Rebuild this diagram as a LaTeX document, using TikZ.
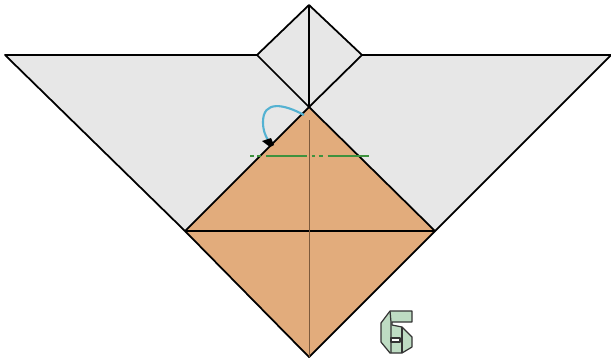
\documentclass[tikz,border=0pt]{standalone}
\usepackage{xcolor}
\usetikzlibrary{arrows.meta}
\definecolor{papergray}{RGB}{231, 231, 231}
\definecolor{paperorange}{RGB}{226, 172, 124}
\definecolor{foldgreen}{RGB}{62, 146, 62}
\definecolor{turnblue}{RGB}{84, 178, 210}
\definecolor{digitgreen}{RGB}{190, 220, 195}
\definecolor{creasebrown}{RGB}{125, 90, 60}
\begin{document}
\begin{tikzpicture}[
        x=0.02cm, y=-0.02cm,
        edge/.style={draw=black, line width=1pt, line join=round},
        crease/.style={draw=creasebrown, line width=0.55pt},
        digit/.style={draw=black!80, fill=digitgreen, line width=0.7pt, line join=round}
    ]
        \useasboundingbox (0, 0) rectangle (611, 360);

        % Corners
        \coordinate (top) at (309, 5);
        \coordinate (mid) at (309, 107);
        \coordinate (smallL) at (257, 55);
        \coordinate (smallR) at (362, 55);
        \coordinate (tipL) at (5, 55);
        \coordinate (tipR) at (611, 55);
        \coordinate (orangeL) at (185, 231);
        \coordinate (orangeR) at (435, 231);
        \coordinate (bottom) at (309, 357);

        % Gray paper
        \fill[papergray] (tipL) -- (smallL) -- (top) -- (smallR) -- (tipR) -- (orangeR) -- (bottom) -- (orangeL) -- cycle;
        \draw[edge] (orangeL) -- (tipL) -- (smallL) -- (top) -- (smallR) -- (tipR) -- (orangeR);
        \draw[edge] (smallL) -- (mid) -- (smallR);
        \draw[edge] (top) -- (mid);

        % Orange square
        \draw[edge, fill=paperorange] (mid) -- (orangeR) -- (bottom) -- (orangeL) -- cycle;
        \draw[edge] (orangeL) -- (orangeR);
        \draw[crease] (309, 120) -- (bottom);

        % Fold line and turn arrow
        \draw[foldgreen, line width=1.3pt, dash pattern=on 2pt off 2pt on 2.5pt off 2.6pt on 23.4pt off 2.6pt] (250, 156) -- (371, 156);
        \draw[turnblue, line width=1.2pt] (304, 115) .. controls (284, 104) and (263, 100) .. (263, 122) .. controls (263, 130) and (265, 135) .. (268, 140);
        \fill[black] (262, 141) -- (271, 138) -- (274, 145) -- (270, 147) -- cycle;

        % Step number
        \draw[digit] (390, 311) -- (412, 311) -- (412, 322) -- (392, 322) -- (392, 325) -- (402, 327) -- (412, 337) -- (412, 347) -- (402, 353) -- (390, 353) -- (381, 342) -- (381, 323) -- cycle;
        \draw[digit] (390, 311) -- (391, 322) -- (391, 353);
        \draw[digit] (402, 327) -- (402, 353);
        \draw[digit, fill=white] (391, 338) -- (400, 338) -- (400, 342) -- (391, 342) -- cycle;
    \end{tikzpicture}
\end{document}
